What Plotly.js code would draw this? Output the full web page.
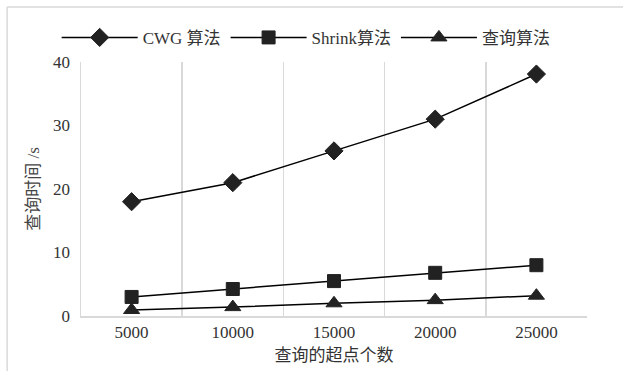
<!DOCTYPE html>
<html>
<head>
<meta charset="utf-8">
<script src="https://cdn.plot.ly/plotly-3.0.1.min.js"></script>
<style>
  html, body { margin: 0; padding: 0; background: #fff; }
  #chart { width: 623px; height: 371px; }
</style>
</head>
<body>
<div id="chart"></div>
<script>
// Number of queried super-points
const categories = ['5000', '10000', '15000', '20000', '25000'];

// Query time in seconds for each algorithm
const cwgTimes = [18.0, 21.0, 26.0, 31.0, 38.1];
const shrinkTimes = [3.0, 4.25, 5.5, 6.8, 8.0];
const queryTimes = [0.95, 1.4, 2.0, 2.5, 3.2];

const seriesNames = ['CWG 算法', 'Shrink算法', '查询算法'];

const FONT = '"Liberation Serif", "Times New Roman", "Noto Sans CJK SC", serif';
const INK = '#222222';

function series(y, name, symbol, size) {
  return {
    x: categories,
    y: y,
    name: name,
    type: 'scatter',
    mode: 'lines+markers',
    line: { color: '#000', width: 1.5 },
    marker: { symbol: symbol, size: size, color: INK, line: { color: INK, width: 1 } }
  };
}

const data = [
  series(cwgTimes, seriesNames[0], 'diamond', 14),
  series(shrinkTimes, seriesNames[1], 'square', 13),
  series(queryTimes, seriesNames[2], 'triangle-up', 14)
];

const layout = {
  width: 623,
  height: 371,
  margin: { l: 81, r: 36, t: 62, b: 55 },
  paper_bgcolor: '#fff',
  plot_bgcolor: '#fff',
  font: { family: FONT, size: 16, color: '#333' },
  showlegend: true,
  legend: {
    orientation: 'h',
    x: 0.445, xanchor: 'center',
    y: 1.095, yanchor: 'middle',
    font: { family: FONT, size: 17, color: '#333' },
    itemwidth: 76,
    bgcolor: 'rgba(0,0,0,0)'
  },
  xaxis: {
    type: 'category',
    range: [-0.5, 4.5],
    autorange: false,
    automargin: false,
    tickson: 'boundaries',
    ticks: '',
    showgrid: true,
    gridcolor: '#d9d9d9',
    gridwidth: 1.5,
    showline: true,
    linecolor: '#d9d9d9',
    linewidth: 1.5,
    zeroline: false,
    tickfont: { family: FONT, size: 17, color: '#333' },
    title: { text: '查询的超点个数', font: { family: FONT, size: 17, color: '#333' }, standoff: 8 }
  },
  yaxis: {
    range: [0, 40],
    autorange: false,
    automargin: false,
    dtick: 10,
    tick0: 0,
    ticks: '',
    showgrid: false,
    showline: true,
    linecolor: '#d9d9d9',
    linewidth: 1.5,
    zeroline: false,
    ticklabelstandoff: 6,
    tickfont: { family: FONT, size: 17, color: '#333' },
    title: { text: '查询时间 /s', font: { family: FONT, size: 17, color: '#444' }, standoff: 9 }
  },
  shapes: [
    // outer chart frame (top and left edges)
    { type: 'line', xref: 'paper', yref: 'paper', x0: -0.146, x1: 1.08, y0: 1.2165, y1: 1.2165,
      line: { color: '#d9d9d9', width: 1.5 } },
    { type: 'line', xref: 'paper', yref: 'paper', x0: -0.146, x1: -0.146, y0: 1.2165, y1: -0.25,
      line: { color: '#d9d9d9', width: 1.5 } }
  ]
};

Plotly.newPlot('chart', data, layout, { displayModeBar: false, staticPlot: true });
</script>
</body>
</html>
